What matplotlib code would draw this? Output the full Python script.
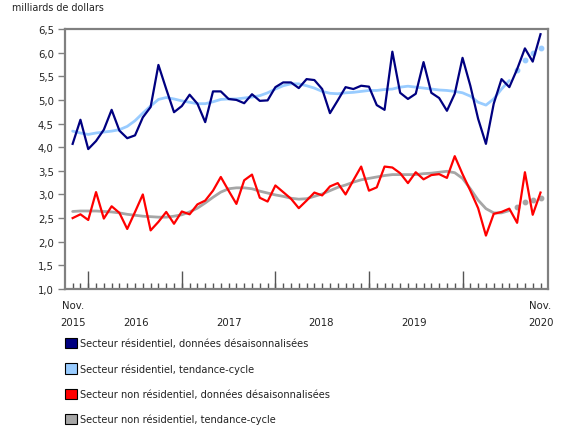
import matplotlib
matplotlib.use("Agg")
import matplotlib.pyplot as plt
from matplotlib.patches import Patch
from matplotlib.ticker import FixedLocator, FuncFormatter

# Monthly, Nov 2015 .. Nov 2020 (61 months)
res_sa = [4.07, 4.58, 3.96, 4.13, 4.37, 4.79, 4.35, 4.19, 4.25, 4.63,
          4.85, 5.74, 5.23, 4.74, 4.87, 5.11, 4.92, 4.53, 5.18, 5.18,
          5.02, 5.00, 4.93, 5.12, 4.98, 4.99, 5.27, 5.37, 5.37, 5.25,
          5.44, 5.42, 5.23, 4.72, 4.99, 5.27, 5.23, 5.30, 5.28, 4.89,
          4.79, 6.02, 5.15, 5.02, 5.13, 5.80, 5.15, 5.04, 4.77, 5.13,
          5.89, 5.30, 4.60, 4.07, 4.92, 5.44, 5.27, 5.65, 6.09, 5.81,
          6.39]
res_tc = [4.34, 4.30, 4.27, 4.30, 4.32, 4.34, 4.37, 4.44, 4.56, 4.72,
          4.87, 5.01, 5.05, 5.02, 4.98, 4.95, 4.92, 4.92, 4.96, 5.01,
          5.02, 5.02, 5.04, 5.06, 5.09, 5.15, 5.23, 5.30, 5.34, 5.34,
          5.30, 5.25, 5.18, 5.14, 5.13, 5.15, 5.16, 5.18, 5.20, 5.20,
          5.22, 5.23, 5.27, 5.29, 5.27, 5.25, 5.23, 5.21, 5.20, 5.18,
          5.15, 5.08, 4.95, 4.89, 5.02, 5.23, 5.41, 5.63, 5.85, 6.00,
          6.09]
nres_sa = [2.50, 2.58, 2.46, 3.05, 2.49, 2.75, 2.61, 2.27, 2.63, 3.00,
           2.24, 2.42, 2.63, 2.38, 2.64, 2.58, 2.79, 2.87, 3.08, 3.37,
           3.08, 2.80, 3.30, 3.42, 2.93, 2.85, 3.19, 3.05, 2.91, 2.71,
           2.87, 3.04, 2.98, 3.17, 3.24, 3.00, 3.30, 3.59, 3.08, 3.15,
           3.59, 3.57, 3.45, 3.24, 3.47, 3.32, 3.41, 3.43, 3.35, 3.81,
           3.43, 3.08, 2.71, 2.13, 2.59, 2.63, 2.70, 2.40, 3.47, 2.57,
           3.04]
nres_tc = [2.64, 2.65, 2.65, 2.65, 2.64, 2.63, 2.61, 2.58, 2.56, 2.54,
           2.53, 2.52, 2.52, 2.54, 2.57, 2.63, 2.71, 2.82, 2.94, 3.05,
           3.12, 3.14, 3.14, 3.12, 3.07, 3.03, 2.99, 2.96, 2.92, 2.90,
           2.91, 2.96, 3.01, 3.08, 3.15, 3.20, 3.26, 3.31, 3.34, 3.37,
           3.40, 3.42, 3.42, 3.42, 3.42, 3.44, 3.45, 3.47, 3.49, 3.46,
           3.34, 3.12, 2.88, 2.70, 2.61, 2.61, 2.66, 2.74, 2.85, 2.89,
           2.92]
n_solid_tc = 57  # trend-cycle solid through index 56, dots afterwards

x_labels_pos = [0, 8.1, 20.0, 31.9, 43.8, 60]
x_labels = ["Nov.\n2015", "\n2016", "\n2017", "\n2018", "\n2019", "Nov.\n2020"]
year_starts = [2, 14, 26, 38, 50]

legend_labels = [
    "Secteur résidentiel, données désaisonnalisées",
    "Secteur résidentiel, tendance-cycle",
    "Secteur non résidentiel, données désaisonnalisées",
    "Secteur non résidentiel, tendance-cycle",
]

c_dark = "#000080"
c_light = "#99CCFF"
c_red = "#FF0000"
c_gray = "#A6A6A6"
spine_c = "#808080"
txt_c = "#222222"

plt.rcParams['font.family'] = ['DejaVu Sans']
fig = plt.figure(figsize=(5.8, 4.35), dpi=100)
ax = fig.add_axes([65/580, 1-290/435, (548-65)/580, (290-30)/435])

x = list(range(len(res_sa)))
xs = x[:n_solid_tc]
xd = x[n_solid_tc:]

ax.plot(xs, res_tc[:n_solid_tc], color=c_light, lw=2.0, solid_capstyle='round', zorder=2)
ax.plot(xd, res_tc[n_solid_tc:], linestyle='none', marker='o', ms=3.2, color=c_light, zorder=2)
ax.plot(xs, nres_tc[:n_solid_tc], color=c_gray, lw=2.0, solid_capstyle='round', zorder=2)
ax.plot(xd, nres_tc[n_solid_tc:], linestyle='none', marker='o', ms=3.2, color=c_gray, zorder=2)
ax.plot(x, res_sa, color=c_dark, lw=1.6, zorder=3)
ax.plot(x, nres_sa, color=c_red, lw=1.6, zorder=3)

ax.set_xlim(-0.98, 60.96)
ax.set_ylim(1.0, 6.5)

yt = [1.0 + 0.5*i for i in range(12)]
ax.set_yticks(yt)
ax.yaxis.set_major_formatter(FuncFormatter(lambda v, p: f"{v:.1f}".replace('.', ',')))
ax.tick_params(axis='y', direction='out', length=5, width=1, color=spine_c,
               labelsize=7.3, labelcolor=txt_c, pad=3)

ax.xaxis.remove_overlapping_locs = False
ax.xaxis.set_major_locator(FixedLocator(x_labels_pos))
ax.set_xticklabels(x_labels)
ax.xaxis.set_minor_locator(FixedLocator(x))
ax.tick_params(axis='x', which='major', length=0, labelsize=7.3, labelcolor=txt_c, pad=8)
ax.tick_params(axis='x', which='minor', direction='in', length=4, width=1, color='#555555')
for lbl in ax.get_xticklabels():
    lbl.set_linespacing(1.9)

sec = ax.secondary_xaxis('bottom')
sec.set_xticks(year_starts)
sec.set_xticklabels([])
sec.tick_params(direction='in', length=13, width=1, color='#555555')
sec.spines['bottom'].set_visible(False)

for s in ax.spines.values():
    s.set_color(spine_c)
    s.set_linewidth(1.6)

fig.text(12/580, 1-8/435, "milliards de dollars", fontsize=6.9, color=txt_c, va='center', ha='left')

handles = [Patch(facecolor=c, edgecolor='black', linewidth=0.8) for c in (c_dark, c_light, c_red, c_gray)]
leg = fig.legend(handles, legend_labels, loc='upper left', bbox_to_anchor=(65/580, 1-339/435),
                 frameon=False, fontsize=7.1, handlelength=1.22, handleheight=1.22,
                 labelspacing=1.5, handletextpad=0.3, borderaxespad=0, borderpad=0)
for t in leg.get_texts():
    t.set_color(txt_c)

fig.savefig("out.png", dpi=100)
